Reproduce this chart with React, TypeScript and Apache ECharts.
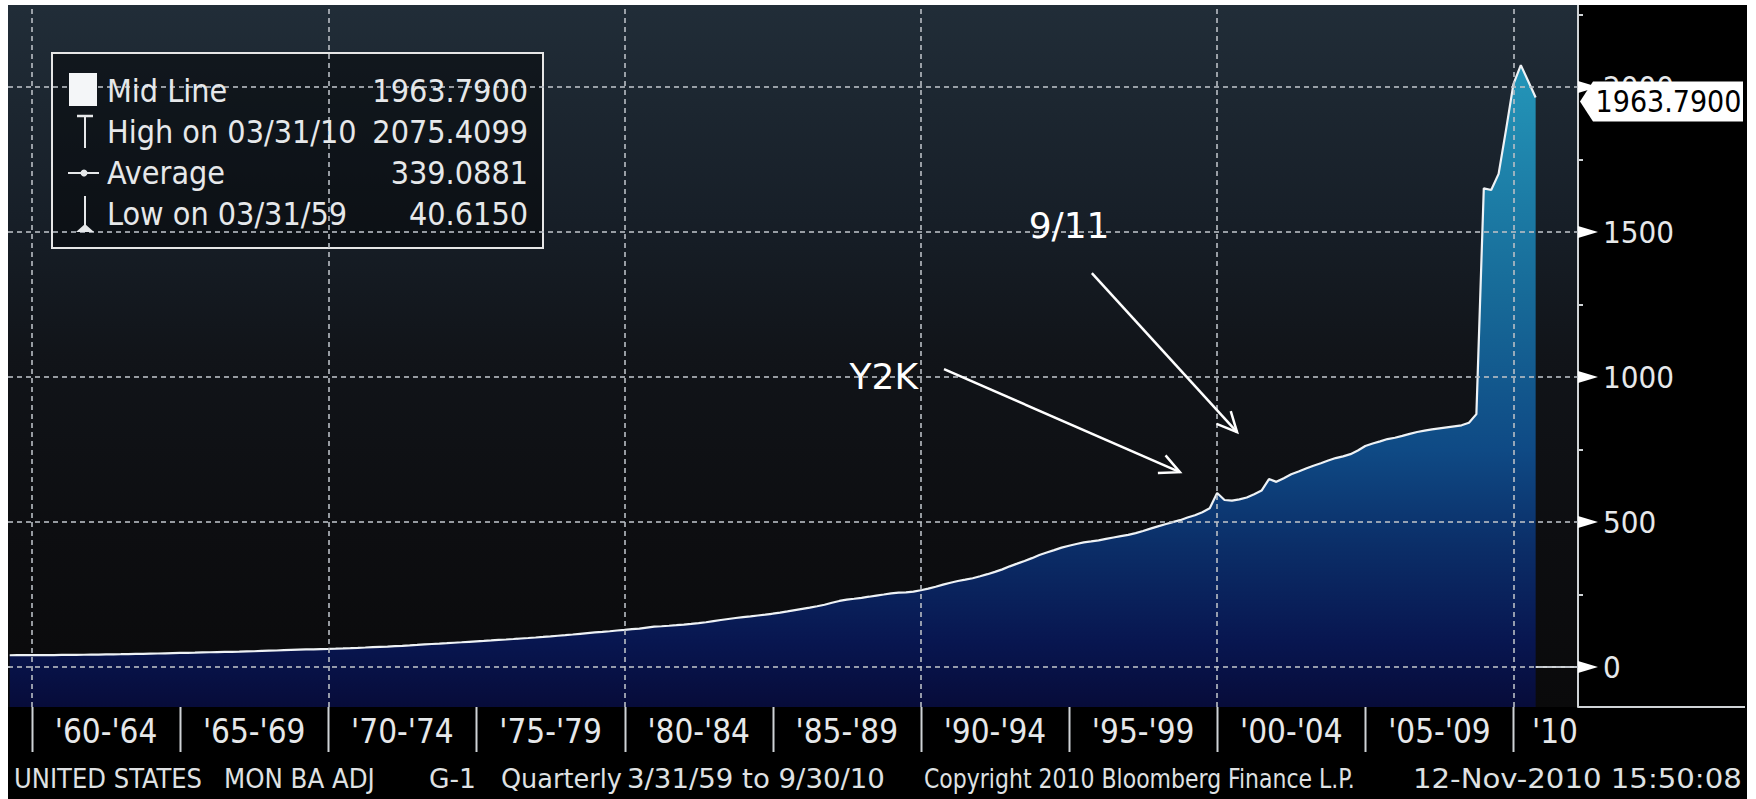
import React, { useEffect, useRef } from "react";
import * as echarts from "echarts";

// ---------------- data ----------------
const START_YEAR = 1959; // first quarter: 3/31/59
// US adjusted monetary base, quarterly (3/31/59 .. 9/30/10)
const MONETARY_BASE: number[] = [
  40.615, 40.9, 41.1, 41.0,
  40.9, 41.0, 41.3, 41.5,
  41.6, 41.9, 42.3, 42.7,
  43.0, 43.4, 43.7, 44.1,
  44.6, 45.1, 45.6, 46.1,
  46.6, 47.2, 47.8, 48.4,
  48.9, 49.5, 50.2, 50.9,
  51.5, 52.0, 52.5, 53.0,
  53.7, 54.4, 55.3, 56.2,
  57.0, 57.9, 58.8, 59.7,
  60.5, 61.1, 61.7, 62.3,
  63.1, 64.0, 65.0, 66.1,
  67.3, 68.6, 69.7, 70.6,
  71.9, 73.2, 74.6, 76.2,
  77.9, 79.4, 80.7, 82.1,
  83.7, 85.3, 87.0, 88.7,
  90.1, 91.7, 93.4, 94.9,
  96.6, 98.4, 100.0, 101.8,
  103.7, 105.7, 107.8, 109.9,
  112.1, 114.5, 116.9, 119.2,
  121.2, 123.3, 125.9, 128.1,
  130.6, 132.1, 135.6, 139.1,
  140.6, 142.3, 144.1, 146.4,
  148.9, 151.5, 154.3, 158.2,
  162.0, 165.6, 168.9, 171.8,
  174.6, 177.7, 180.4, 183.9,
  187.6, 191.8, 196.4, 200.6,
  204.8, 209.5, 214.7, 221.7,
  227.8, 232.4, 235.3, 238.7,
  242.4, 246.4, 250.1, 254.2,
  256.3, 257.5, 259.7, 264.6,
  270.1, 276.6, 283.9, 290.6,
  296.5, 301.1, 306.0, 313.0,
  320.1, 328.1, 336.7, 347.1,
  356.4, 365.8, 375.4, 386.0,
  394.6, 403.1, 411.7, 418.3,
  424.1, 429.7, 433.0, 436.5,
  441.6, 446.7, 451.6, 455.8,
  461.8, 469.0, 477.1, 485.1,
  492.4, 499.5, 506.3, 515.4,
  523.1, 533.9, 547.1, 600.1,
  576.0, 573.5, 578.0, 584.5,
  596.0, 608.5, 648.0, 638.5,
  651.0, 664.5, 674.0, 684.5,
  694.0, 702.5, 712.0, 720.5,
  726.5, 734.0, 746.5, 762.0,
  770.5, 778.0, 786.0, 790.5,
  797.0, 804.0, 810.5, 815.0,
  819.5, 823.0, 826.5, 830.0,
  833.5, 842.0, 872.0, 1650.5,
  1645.0, 1700.5, 1852.0, 2010.0,
  2075.4099, 2020.0, 1963.79,
];

const DECADE_GRID = [1960, 1970, 1980, 1990, 2000, 2010];
const LEVEL_GRID = [0, 500, 1000, 1500, 2000];
const Y_TICK_LABELS = [0, 500, 1000, 1500, 2000];
const Y_MINOR_TICKS = [250, 750, 1250, 1750, 2250];
const PERIOD_BOUNDS = [1960, 1965, 1970, 1975, 1980, 1985, 1990, 1995, 2000, 2005, 2010];
const PERIOD_LABELS = ["'60-'64", "'65-'69", "'70-'74", "'75-'79", "'80-'84", "'85-'89", "'90-'94", "'95-'99", "'00-'04", "'05-'09", "'10"];
const PERIOD_LABEL_AT = [1962.5, 1967.5, 1972.5, 1977.5, 1982.5, 1987.5, 1992.5, 1997.5, 2002.5, 2007.5, 2011.4];

const LEGEND_NAMES = ["Mid Line", "High on 03/31/10", "Average", "Low on 03/31/59"];
const LEGEND_VALUES = ["1963.7900", "2075.4099", "339.0881", "40.6150"];

const FOOTER_PARTS = ["UNITED STATES", "MON BA ADJ", "G-1", "Quarterly", "3/31/59 to 9/30/10", "Copyright 2010 Bloomberg Finance L.P.", "12-Nov-2010 15:50:08"];

const ANNOTATIONS = [
  { text: "Y2K", label: [1988.75, 1003], from: [1990.78, 1027], to: [1998.74, 672] },
  { text: "9/11", label: [1995.0, 1524], from: [1995.77, 1358], to: [2000.67, 810] },
];

// ---------------- layout ----------------
const W = 1739;
const H = 794;
const PLOT_W = 1570;
const PLOT_H = 702;
const X_MIN = 1959.19;
const X_MAX = 2012.177;
const Y_MIN = -137.9;
const Y_MAX = 2282.8;
const FOOTER_LEFT = [6, 216, 421, 493, 619, 916, 1405];
const FOOTER_WIDTH = [188, 151, 47, 121, 258, 431, 329];
const FOOTER_Y = 774;
const FOOTER_SIZE = 26;

const FONT = '"DejaVu Sans Condensed", "Liberation Sans Narrow", "DejaVu Sans", sans-serif';
const FONT_WIDE = '"DejaVu Sans", Verdana, sans-serif';
const TEXT = "#e6e8ea";
const AXIS = "#cfd3d6";

const TRI = "path://M0,0L10,5L0,10Z";
const TAG = "path://M0,20L13,0L163,0L163,40L13,40Z";

function periodLabel(v: number): string {
  let best = 0;
  for (let i = 1; i < PERIOD_LABEL_AT.length; i++) {
    if (Math.abs(PERIOD_LABEL_AT[i] - v) < Math.abs(PERIOD_LABEL_AT[best] - v)) best = i;
  }
  return PERIOD_LABELS[best];
}

function measure(text: string, size: number, family: string): number {
  const c = document.createElement("canvas");
  const ctx = c.getContext("2d");
  if (!ctx) return text.length * size * 0.55;
  ctx.font = `${size}px ${family}`;
  return ctx.measureText(text).width;
}

export default function App() {
  const ref = useRef<HTMLDivElement>(null);

  useEffect(() => {
    const el = ref.current;
    if (!el) return;
    const chart = echarts.init(el, null, { renderer: "svg", width: W, height: H });

    const points = MONETARY_BASE.map((v, i) => [START_YEAR + (i + 1) / 4 - 0.0025, v]);
    const last = MONETARY_BASE[MONETARY_BASE.length - 1];

    const areaGradient = {
      type: "linear", x: 0, y: 60, x2: 0, y2: 701, global: true,
      colorStops: [
        { offset: 0, color: "#2496b9" },
        { offset: 0.36, color: "#176a98" },
        { offset: 0.6, color: "#0f4a85" },
        { offset: 0.75, color: "#0b2e68" },
        { offset: 0.9, color: "#081650" },
        { offset: 1, color: "#070c3a" },
      ],
    };

    const option: any = {
      animation: false,
      backgroundColor: "#000",
      grid: { left: 0, top: 0, width: PLOT_W, height: PLOT_H, containLabel: false, outerBoundsMode: "none" },
      xAxis: {
        type: "value",
        min: X_MIN,
        max: X_MAX,
        axisLine: { show: true, lineStyle: { color: AXIS, width: 2 } },
        axisTick: { show: false },
        axisLabel: {
          show: true,
          customValues: PERIOD_LABEL_AT,
          formatter: (v: number) => periodLabel(v),
          color: TEXT,
          fontSize: 33,
          fontFamily: FONT,
          margin: 7,
          lineHeight: 34,
        },
        splitLine: { show: false },
      },
      yAxis: {
        type: "value",
        position: "right",
        min: Y_MIN,
        max: Y_MAX,
        axisLine: { show: true, lineStyle: { color: AXIS, width: 2 } },
        axisTick: { show: false },
        axisLabel: {
          show: true,
          customValues: Y_TICK_LABELS,
          formatter: (v: number) => String(v),
          margin: 25,
          color: TEXT,
          fontSize: 31,
          fontFamily: FONT,
        },
        splitLine: { show: false },
      },
      series: [
        {
          type: "line",
          data: points,
          symbol: "none",
          showSymbol: false,
          clip: true,
          lineStyle: { color: "#eef2f5", width: 2.2 },
          areaStyle: { color: areaGradient, opacity: 1, origin: "start" },
          markLine: {
            silent: true,
            symbol: "none",
            label: { show: false },
            lineStyle: { type: [5, 4], color: "rgba(185,190,196,0.8)", width: 2 },
            data: [
              ...DECADE_GRID.map((v) => ({ xAxis: v })),
              ...LEVEL_GRID.map((v) => ({ yAxis: v })),
            ],
          },
          markPoint: {
            silent: true,
            data: [
              ...Y_TICK_LABELS.map((v) => ({
                coord: [X_MAX, v],
                symbol: TRI,
                symbolSize: [20, 12],
                symbolOffset: [10, 0],
                itemStyle: { color: "#ffffff" },
                label: { show: false },
              })),
              {
                coord: [X_MAX, last],
                symbol: TAG,
                symbolSize: [163, 40],
                symbolOffset: [83.5, 4],
                itemStyle: { color: "#ffffff" },
                label: {
                  show: true,
                  position: "inside",
                  formatter: last.toFixed(4),
                  color: "#000",
                  fontSize: 30,
                  fontFamily: FONT,
                  offset: [7, 0],
                },
              },
            ],
          },
        },
      ],
    };

    chart.setOption(option);

    const px = (p: number[]) => chart.convertToPixel({ xAxisIndex: 0, yAxisIndex: 0 }, p) as number[];

    const g: any[] = [];
    // plot background
    g.push({
      type: "rect", z: -10, silent: true,
      shape: { x: 0, y: 0, width: PLOT_W, height: PLOT_H },
      style: {
        fill: {
          type: "linear", x: 0, y: 0, x2: 0, y2: 1,
          colorStops: [
            { offset: 0, color: "#212d38" },
            { offset: 0.3, color: "#171f28" },
            { offset: 0.5, color: "#111419" },
            { offset: 0.75, color: "#0d0e11" },
            { offset: 1, color: "#0a0a0b" },
          ],
        },
      },
    });
    // x-axis line continuing under the value scale
    g.push({ type: "line", z: 1, silent: true, shape: { x1: PLOT_W, y1: PLOT_H, x2: 1737, y2: PLOT_H }, style: { stroke: AXIS, lineWidth: 2 } });

    // period separators below the x axis
    PERIOD_BOUNDS.forEach((v) => {
      const x = Math.round(px([v, 0])[0]) + 0.5;
      g.push({ type: "line", z: 1, silent: true, shape: { x1: x, y1: PLOT_H, x2: x, y2: PLOT_H + 45 }, style: { stroke: AXIS, lineWidth: 2 } });
    });
    // minor ticks on the value scale
    Y_MINOR_TICKS.forEach((v) => {
      const y = Math.round(px([X_MAX, v])[1]);
      g.push({ type: "line", z: 1, silent: true, shape: { x1: PLOT_W, y1: y, x2: PLOT_W + 5, y2: y }, style: { stroke: AXIS, lineWidth: 2 } });
    });

    // legend box
    g.push({ type: "rect", z: 1, silent: true, shape: { x: 44, y: 48, width: 491, height: 195 }, style: { fill: "rgba(0,0,0,0.43)", stroke: "#e6e6e6", lineWidth: 2 } });
    const rowY = [86, 127, 168, 209];
    LEGEND_NAMES.forEach((name, i) => {
      g.push({ type: "text", z: 6, silent: true, x: 99, y: rowY[i], style: { text: name, fill: TEXT, fontSize: 32, fontFamily: FONT, align: "left", verticalAlign: "middle", textAlign: "left", textVerticalAlign: "middle" } });
      g.push({ type: "text", z: 6, silent: true, x: 520, y: rowY[i], style: { text: LEGEND_VALUES[i], fill: TEXT, fontSize: 32, fontFamily: FONT, align: "right", verticalAlign: "middle", textAlign: "right", textVerticalAlign: "middle" } });
    });
    // legend icons
    g.push({ type: "rect", z: 6, silent: true, shape: { x: 61, y: 68, width: 28, height: 33 }, style: { fill: "#f4f6f8" } });
    g.push({ type: "line", z: 6, silent: true, shape: { x1: 69, y1: 111, x2: 85, y2: 111 }, style: { stroke: TEXT, lineWidth: 2.5 } });
    g.push({ type: "line", z: 6, silent: true, shape: { x1: 77, y1: 111, x2: 77, y2: 143 }, style: { stroke: TEXT, lineWidth: 2 } });
    g.push({ type: "line", z: 6, silent: true, shape: { x1: 60, y1: 168, x2: 91, y2: 168 }, style: { stroke: TEXT, lineWidth: 2 } });
    g.push({ type: "circle", z: 6, silent: true, shape: { cx: 76, cy: 168, r: 3.5 }, style: { fill: TEXT } });
    g.push({ type: "line", z: 6, silent: true, shape: { x1: 77, y1: 191, x2: 77, y2: 225 }, style: { stroke: TEXT, lineWidth: 2 } });
    g.push({ type: "polygon", z: 6, silent: true, shape: { points: [[68, 227], [86, 227], [77, 219]] }, style: { fill: TEXT } });

    // footer, each part fitted to its width in the reference
    FOOTER_PARTS.forEach((t, i) => {
      const natural = measure(t, FOOTER_SIZE, FONT);
      const sx = natural > 0 ? FOOTER_WIDTH[i] / natural : 1;
      g.push({
        type: "text", z: 6, silent: true,
        x: FOOTER_LEFT[i], y: FOOTER_Y, scaleX: sx, scaleY: 1,
        style: { text: t, fill: "#dfe1e3", fontSize: FOOTER_SIZE, fontFamily: FONT, align: "left", verticalAlign: "middle", textAlign: "left", textVerticalAlign: "middle" },
      });
    });

    // annotations
    ANNOTATIONS.forEach((a) => {
      const [lx, ly] = px(a.label);
      const [x1, y1] = px(a.from);
      const [x2, y2] = px(a.to);
      g.push({ type: "text", z: 6, silent: true, x: lx, y: ly, style: { text: a.text, fill: "#ffffff", fontSize: 36, fontFamily: FONT_WIDE, align: "center", verticalAlign: "middle", textAlign: "center", textVerticalAlign: "middle" } });
      g.push({ type: "line", z: 6, silent: true, shape: { x1, y1, x2, y2 }, style: { stroke: "#ffffff", lineWidth: 2.5 } });
      const ang = Math.atan2(y2 - y1, x2 - x1);
      const L = 22;
      const s = 0.45;
      g.push({
        type: "polyline", z: 6, silent: true,
        shape: { points: [[x2 - L * Math.cos(ang - s), y2 - L * Math.sin(ang - s)], [x2, y2], [x2 - L * Math.cos(ang + s), y2 - L * Math.sin(ang + s)]] },
        style: { stroke: "#ffffff", lineWidth: 2.5, fill: "none" },
      });
    });

    chart.setOption({ graphic: g });

    return () => chart.dispose();
  }, []);

  return (
    <div
      ref={ref}
      style={{ position: "fixed", left: 8, top: 5, width: W, height: H }}
    />
  );
}
